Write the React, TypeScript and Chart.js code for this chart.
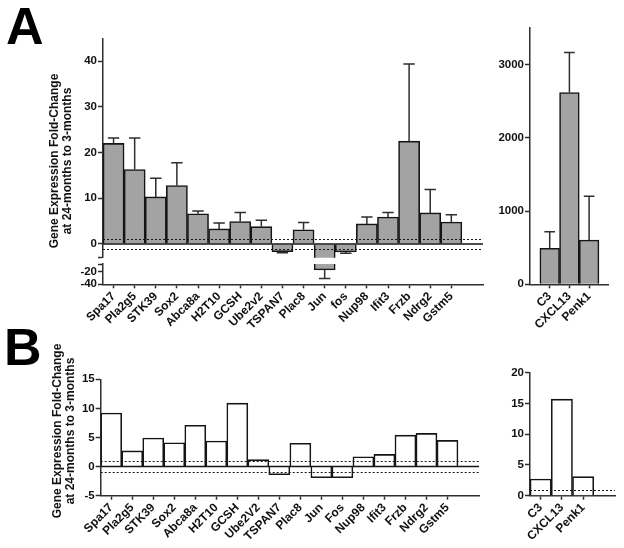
import React, { useEffect, useRef } from 'react';
import { Chart, registerables } from 'chart.js';

Chart.register(...registerables);

// ---------- data ----------
const genesA = ['Spa17', 'Pla2g5', 'STK39', 'Sox2', 'Abca8a', 'H2T10', 'GCSH', 'Ube2v2', 'TSPAN7', 'Plac8', 'Jun', 'fos', 'Nup98', 'Ifit3', 'Frzb', 'Ndrg2', 'Gstm5'];
const foldA = [22.0, 16.3, 10.3, 12.8, 6.6, 3.3, 4.9, 3.8, -1.7, 3.1, -17.5, -1.75, 4.4, 5.9, 22.5, 6.8, 4.8];
const errA = [23.2, 23.2, 14.4, 17.8, 7.2, 4.6, 6.9, 5.2, -1.9, 4.7, -31, -2.0, 5.9, 6.9, 39.4, 11.9, 6.4];

const genesB = ['Spa17', 'Pla2g5', 'STK39', 'Sox2', 'Abca8a', 'H2T10', 'GCSH', 'Ube2V2', 'TSPAN7', 'Plac8', 'Jun', 'Fos', 'Nup98', 'Ifit3', 'Frzb', 'Ndrg2', 'Gstm5'];
const foldB = [9.2, 2.7, 4.9, 4.1, 7.1, 4.4, 10.9, 1.2, -1.4, 4.0, -1.9, -1.9, 1.7, 2.1, 5.4, 5.7, 4.5];

const genesRight = ['C3', 'CXCL13', 'Penk1'];
const foldARight = [492, 2618, 605];
const errARight = [719, 3164, 1202];
const foldBRight = [2.7, 15.7, 3.1];

const ticksAUpper = [0, 10, 20, 30, 40];
const breakAUpper = [-3];
const ticksALower = [-40, -20];
const breakALower = [-8];
const ticksARight = [0, 1000, 2000, 3000];
const ticksBLeft = [-5, 0, 5, 10, 15];
const ticksBRight = [0, 5, 10, 15, 20];
const thresholds = [1, -1];

const axisTitle = ['Gene Expression Fold-Change', 'at 24-months to 3-months'];

// ---------- style ----------
const FONT = "'Liberation Sans', Arial, Helvetica, sans-serif";
const INK = '#151515';
const AXIS = '#2e2e2e';
const GREY = '#a3a3a3';
const TEXT = '#111111';

type Spec = {
  left: number; top: number; width: number; height: number;
  plot: [number, number, number, number];
  labels: string[];
  data: any[];
  fill: string;
  yMin: number; yMax: number;
  ticks: number[]; breaks: number[];
  showX: boolean; offset: boolean;
  zero: boolean; dotted: number[];
  errors?: number[];
};

const specs: Spec[] = [
  {
    left: 55, top: 30, width: 435, height: 236,
    plot: [103, 38.3, 483, 257.7],
    labels: [...genesA, ''], data: foldA, fill: GREY,
    yMin: -3, yMax: 45, ticks: ticksAUpper, breaks: breakAUpper,
    showX: false, offset: true, zero: true, dotted: thresholds, errors: errA,
  },
  {
    left: 55, top: 256, width: 435, height: 100,
    plot: [103, 264, 483, 284.3],
    labels: [...genesA, ''], data: foldA, fill: GREY,
    yMin: -40, yMax: -8, ticks: ticksALower, breaks: breakALower,
    showX: true, offset: true, zero: false, dotted: [], errors: errA,
  },
  {
    left: 488, top: 20, width: 132, height: 336,
    plot: [530, 28, 613, 284.3],
    labels: ['', ...genesRight, ''],
    data: genesRight.map((g, i) => ({ x: g, y: foldARight[i] })), fill: GREY,
    yMin: 0, yMax: 3500, ticks: ticksARight, breaks: [],
    showX: true, offset: false, zero: false, dotted: [], errors: errARight,
  },
  {
    left: 55, top: 370, width: 430, height: 178,
    plot: [100.7, 379.3, 479, 495.7],
    labels: [...genesB, ''], data: foldB, fill: '#ffffff',
    yMin: -5, yMax: 15, ticks: ticksBLeft, breaks: [],
    showX: true, offset: true, zero: true, dotted: thresholds,
  },
  {
    left: 488, top: 362, width: 134, height: 186,
    plot: [530, 372.7, 615, 495.7],
    labels: [...genesRight, ''], data: foldBRight, fill: '#ffffff',
    yMin: 0, yMax: 20, ticks: ticksBRight, breaks: [],
    showX: true, offset: true, zero: false, dotted: [thresholds[0]],
  },
];

function overlay(s: Spec) {
  return {
    id: 'overlay',
    afterDatasetsDraw(chart: any) {
      const { ctx, chartArea: a, scales } = chart;
      const y = scales.y;
      ctx.save();
      ctx.beginPath();
      ctx.rect(a.left, a.top - 1, a.right - a.left + 1, a.bottom - a.top + 2);
      ctx.clip();
      // threshold dotted lines
      ctx.strokeStyle = INK;
      ctx.lineWidth = 1;
      ctx.setLineDash([2, 2]);
      s.dotted.forEach((v) => {
        const py = Math.round(y.getPixelForValue(v)) + 0.5;
        ctx.beginPath();
        ctx.moveTo(a.left, py);
        ctx.lineTo(a.right, py);
        ctx.stroke();
      });
      ctx.setLineDash([]);
      // zero line
      if (s.zero) {
        const py = y.getPixelForValue(0);
        ctx.lineWidth = 1.5;
        ctx.beginPath();
        ctx.moveTo(a.left, py);
        ctx.lineTo(a.right, py);
        ctx.stroke();
      }
      // error bars
      if (s.errors) {
        const meta = chart.getDatasetMeta(0);
        ctx.strokeStyle = AXIS;
        ctx.lineWidth = 1.5;
        meta.data.forEach((el: any, i: number) => {
          const e = s.errors![i];
          if (e == null) return;
          const x = el.x;
          const ye = y.getPixelForValue(e);
          const half = (el.width || 20) * 0.27;
          ctx.beginPath();
          ctx.moveTo(x, el.y);
          ctx.lineTo(x, ye);
          ctx.moveTo(x - half, ye);
          ctx.lineTo(x + half, ye);
          ctx.stroke();
        });
      }
      ctx.restore();
    },
  };
}

function makeChart(canvas: HTMLCanvasElement, s: Spec) {
  const [pl, pt, pr, pb] = s.plot;
  const yW = pl - s.left;
  const padTop = pt - s.top;
  const padRight = s.left + s.width - pr;
  const bottomSpace = s.top + s.height - pb;
  const yFont = { family: FONT, size: 11.5, weight: 'bold' as const };
  const xFont = { family: FONT, size: 12, weight: 'bold' as const };
  return new Chart(canvas, {
    type: 'bar',
    data: {
      labels: s.labels,
      datasets: [
        {
          data: s.data,
          backgroundColor: s.fill,
          borderColor: INK,
          borderWidth: 1.6,
          barPercentage: 1,
          categoryPercentage: 1,
          clip: 0 as any,
        },
      ],
    },
    options: {
      responsive: false,
      maintainAspectRatio: false,
      animation: false,
      events: [],
      layout: { padding: { left: 0, top: padTop, right: padRight, bottom: s.showX ? 0 : bottomSpace } },
      plugins: { legend: { display: false }, tooltip: { enabled: false }, title: { display: false } },
      scales: {
        x: {
          type: 'category',
          display: s.showX,
          offset: s.offset,
          grid: {
            offset: false,
            drawOnChartArea: false,
            tickLength: 4,
            tickWidth: 1.5,
            tickColor: (c: any) => (c.tick && c.tick.label === '' ? 'rgba(0,0,0,0)' : AXIS),
          },
          border: { display: true, color: AXIS, width: 1.5 },
          ticks: {
            autoSkip: false,
            maxRotation: 45,
            minRotation: 45,
            padding: 1,
            color: TEXT,
            font: xFont,
          },
          afterFit: (sc: any) => {
            if (s.showX) sc.height = bottomSpace;
          },
        },
        y: {
          type: 'linear',
          min: s.yMin,
          max: s.yMax,
          afterBuildTicks: (sc: any) => {
            sc.ticks = [...s.breaks, ...s.ticks].sort((p, q) => p - q).map((v) => ({ value: v }));
          },
          afterFit: (sc: any) => {
            sc.width = yW;
          },
          grid: { drawOnChartArea: false, tickLength: 5, tickWidth: 1.5, tickColor: AXIS },
          border: { display: true, color: AXIS, width: 1.5 },
          ticks: {
            autoSkip: false,
            padding: 1,
            color: TEXT,
            font: yFont,
            callback: (v: any) => (s.breaks.includes(v) ? '' : String(v)),
          },
        },
      },
    },
    plugins: [overlay(s)],
  } as any);
}

function YTitle({ cx, cy }: { cx: number; cy: number }) {
  return (
    <div
      style={{
        position: 'absolute',
        left: cx - 110,
        top: cy - 13,
        width: 220,
        height: 26,
        transform: 'rotate(-90deg)',
        textAlign: 'center',
        font: `bold 12px ${FONT}`,
        lineHeight: '13px',
        color: TEXT,
        whiteSpace: 'nowrap',
      }}
    >
      {axisTitle[0]}
      <br />
      {axisTitle[1]}
    </div>
  );
}

export default function App() {
  const refs = useRef<(HTMLCanvasElement | null)[]>([]);
  useEffect(() => {
    const charts = specs.map((s, i) => makeChart(refs.current[i] as HTMLCanvasElement, s));
    return () => charts.forEach((c) => c.destroy());
  }, []);
  const letter = (t: string, left: number, top: number) => (
    <div style={{ position: 'absolute', left, top, font: `bold 52px ${FONT}`, lineHeight: '52px', color: '#000' }}>{t}</div>
  );
  return (
    <div style={{ position: 'absolute', left: 0, top: 0, width: 624, height: 548, background: '#fff', overflow: 'hidden' }}>
      {specs.map((s, i) => (
        <canvas
          key={i}
          ref={(el) => {
            refs.current[i] = el;
          }}
          width={s.width}
          height={s.height}
          style={{ position: 'absolute', left: s.left, top: s.top, width: s.width, height: s.height }}
        />
      ))}
      {letter('A', 6, 0)}
      {letter('B', 4, 321)}
      <YTitle cx={61.3} cy={160.5} />
      <YTitle cx={63.8} cy={430.5} />
    </div>
  );
}
